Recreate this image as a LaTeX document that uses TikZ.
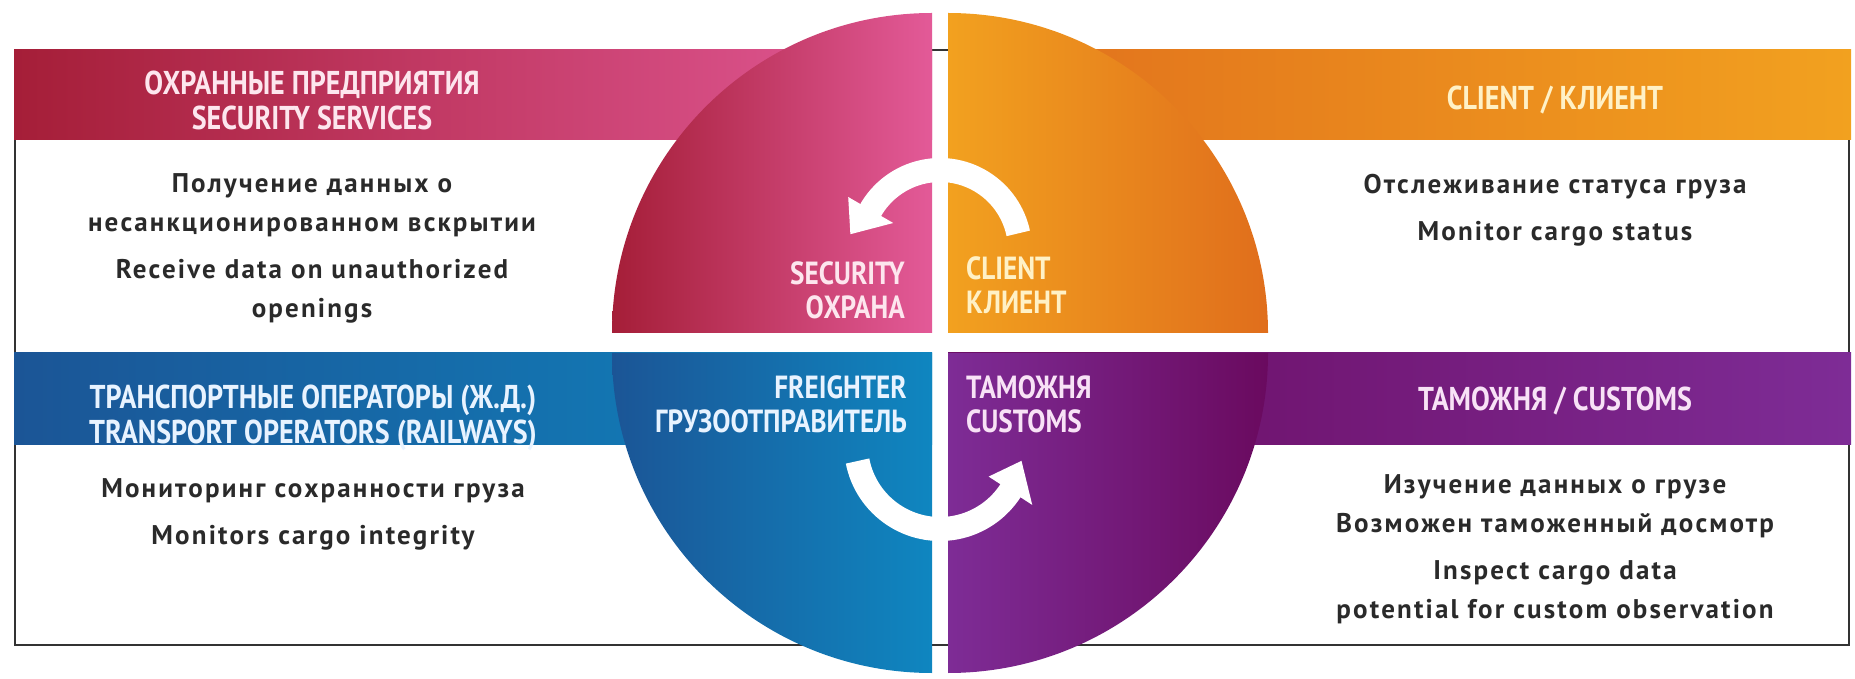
\documentclass[tikz,border=0pt]{standalone}
\usepackage{fontspec}
\setmainfont{PT Sans}[FakeStretch=0.85]
\newfontfamily\bodyfont{PT Sans}[LetterSpace=8]

\definecolor{secdark}{HTML}{A51E38}
\definecolor{seclight}{HTML}{E35A98}
\definecolor{secpale}{HTML}{FDE6EE}
\definecolor{clidark}{HTML}{E06E1C}
\definecolor{clilight}{HTML}{F2A11F}
\definecolor{clipale}{HTML}{FFF1C6}
\definecolor{frdark}{HTML}{1B5596}
\definecolor{frlight}{HTML}{0F86C0}
\definecolor{frpale}{HTML}{E8F3FF}
\definecolor{cusdark}{HTML}{6A0A5F}
\definecolor{cuslight}{HTML}{7E2C96}
\definecolor{cuspale}{HTML}{F8E2F6}
\definecolor{bodytext}{HTML}{2A2A2A}

\begin{document}
\begin{tikzpicture}[x=1pt, y=1pt,
    head/.style={font=\bfseries\fontsize{33}{35}\selectfont, align=center, inner sep=0pt},
    tag/.style={font=\bfseries\fontsize{32}{34}\selectfont, inner sep=0pt},
    body/.style={font=\bodyfont\bfseries\fontsize{27}{39}\selectfont, text=bodytext, align=center, inner sep=0pt},
    band/.style={white, line width=24pt}]
    \useasboundingbox (0,0) rectangle (1855,678);

    \draw[black!80, line width=2.5pt] (15,33) rectangle (1849,628);

    % banners
    \shade[left color=secdark, right color=seclight] (14,538) rectangle (932,628);
    \shade[left color=clidark, right color=clilight] (948,538) rectangle (1851,628);
    \shade[left color=frdark, right color=frlight] (14,233) rectangle (932,325);
    \shade[left color=cusdark, right color=cuslight] (948,233) rectangle (1851,325);

    % quarters
    \shade[left color=secdark, right color=seclight] (932,345) -- (612,345) arc[start angle=180, end angle=90, radius=320] -- cycle;
    \shade[left color=clilight, right color=clidark] (948,345) -- (948,665) arc[start angle=90, end angle=0, radius=320] -- cycle;
    \shade[left color=frdark, right color=frlight] (932,325) -- (932,5) arc[start angle=270, end angle=180, radius=320] -- cycle;
    \shade[left color=cuslight, right color=cusdark] (948,325) -- (1268,325) arc[start angle=0, end angle=-90, radius=320] -- cycle;

    % arrows
    \begin{scope}[shift={(940,428)}]
        \draw[band] (12:80) arc[start angle=12, end angle=151, radius=80];
        \fill[white] (150:54) -- (150:106) -- (170:91) -- cycle;
    \end{scope}
    \begin{scope}[shift={(940,233)}]
        \draw[band] (191:84) arc[start angle=191, end angle=328, radius=84];
        \fill[white] (-33:58) -- (-33:110) -- (-11:83) -- cycle;
    \end{scope}

    \node[head, text=secpale] (sechead) at (312,578) {ОХРАННЫЕ ПРЕДПРИЯТИЯ\\SECURITY SERVICES};
    \node[head, text=clipale] (clihead) at (1555,578) {CLIENT / КЛИЕНТ};
    \node[head, text=frpale] (frhead) at (313,260) {ТРАНСПОРТНЫЕ ОПЕРАТОРЫ (Ж.Д.)\\TRANSPORT OPERATORS (RAILWAYS)};
    \node[head, text=cuspale] (cushead) at (1555,277) {ТАМОЖНЯ / CUSTOMS};

    \node[tag, anchor=east, align=right, text=secpale] (sectag) at (905,388) {SECURITY\\ОХРАНА};
    \node[tag, anchor=west, align=left, text=clipale] (clitag) at (966,393) {CLIENT\\КЛИЕНТ};
    \node[tag, anchor=east, align=right, text=frpale] (frtag) at (907,274) {FREIGHTER\\ГРУЗООТПРАВИТЕЛЬ};
    \node[tag, anchor=west, align=left, text=cuspale] (custag) at (966,274) {ТАМОЖНЯ\\CUSTOMS};

    \node[body] (sectext) at (312,430) {Получение данных о\\несанкционированном вскрытии\\[8pt]Receive data on unauthorized\\openings};
    \node[body] (clitext) at (1555,468) {Отслеживание статуса груза\\[8pt]Monitor cargo status};
    \node[body] (frtext) at (313,164) {Мониторинг сохранности груза\\[8pt]Monitors cargo integrity};
    \node[body] (custext) at (1555,129) {Изучение данных о грузе\\Возможен таможенный досмотр\\[8pt]Inspect cargo data\\potential for custom observation};
\end{tikzpicture}
\end{document}
